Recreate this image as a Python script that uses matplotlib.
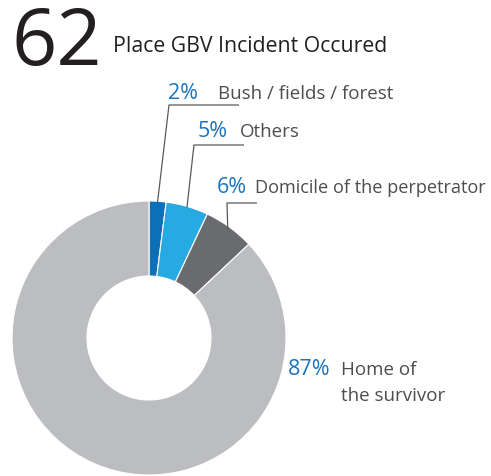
import numpy as np
import matplotlib
matplotlib.use("Agg")
import matplotlib.pyplot as plt

# data
places = ["Bush / fields / forest", "Others", "Domicile of the perpetrator", "Home of\nthe survivor"]
shares = [2, 5, 6, 87]
colors = ["#0b70b7", "#26aae1", "#6a6b6f", "#bcbdc1"]

W, H = 491, 476
plt.rcParams["font.family"] = ["Open Sans", "DejaVu Sans"]

fig = plt.figure(figsize=(W / 100, H / 100), dpi=100)
ax = fig.add_axes([0, 0, 1, 1])
ax.set_xlim(0, W)
ax.set_ylim(0, H)
ax.set_aspect("equal")
ax.axis("off")


def py(y):
    # convert top-down pixel y into axes y
    return H - y


cx, cy, r_out, ring = 149, 338, 137, 75
ax.pie(shares, colors=colors, startangle=90, counterclock=False,
       radius=r_out, center=(cx, py(cy)),
       wedgeprops=dict(width=ring, edgecolor="white", linewidth=0.8))
ax.set_xlim(0, W)
ax.set_ylim(0, H)

fig.text(11 / W, 1 - 65 / H, "62", fontsize=57, color="#231f20",
         va="baseline", ha="left")
fig.text(113 / W, 1 - 52 / H, "Place GBV Incident Occured", fontsize=15.3,
         color="#231f20", va="baseline", ha="left")

pct_color = "#1b75bc"
txt_color = "#4d4d4f"
line_color = "#58595b"
fs = 13.5
fs_pct = 15.5

# label layout: elbow point, line end x, pct x, text x, baseline y, size
layout = [
    ((169, 105), 239, 168, 218, 99, fs),
    ((194, 145), 244, 198, 240, 137, fs),
    ((227, 203), 257, 217, 255, 193, 13.1),
]

cum = np.cumsum([0] + shares)
for i, (elbow, xend, xp, xt, yt, size) in enumerate(layout):
    mid = 90 - 3.6 * (cum[i] + cum[i + 1]) / 2
    rr = r_out - 1 if i < 2 else r_out - 3
    sx = cx + rr * np.cos(np.radians(mid))
    sy = cy - rr * np.sin(np.radians(mid))
    ax.plot([sx, elbow[0], xend], [py(sy), py(elbow[1]), py(elbow[1])],
            color=line_color, lw=0.9, solid_capstyle="butt")
    ax.text(xp, py(yt), f"{shares[i]}%", fontsize=fs_pct, color=pct_color,
            va="baseline", ha="left")
    ax.text(xt, py(yt), places[i], fontsize=size, color=txt_color,
            va="baseline", ha="left", clip_on=False)

ax.text(288, py(375), f"{shares[3]}%", fontsize=fs_pct, color=pct_color,
        va="baseline", ha="left")
home, surv = places[3].split("\n")
ax.text(341, py(375), home, fontsize=fs, color=txt_color,
        va="baseline", ha="left")
ax.text(341, py(401), surv, fontsize=fs, color=txt_color,
        va="baseline", ha="left")

fig.savefig("out.png", dpi=100)
